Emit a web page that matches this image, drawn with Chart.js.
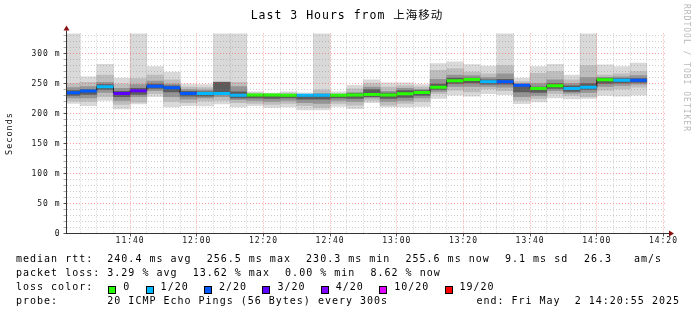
<!DOCTYPE html>
<html>
<head>
<meta charset="utf-8">
<script src="https://cdn.jsdelivr.net/npm/chart.js@4.4.1/dist/chart.umd.min.js"></script>
<style>
  body { margin: 0; background: #fff; }
  #wrap { position: relative; width: 697px; height: 315px; overflow: hidden; }
  #c { position: absolute; left: 0; top: 0; }
  .mono { position: absolute; font-family: "DejaVu Sans Mono", "Noto Sans CJK SC", monospace; white-space: pre; letter-spacing: 1px; color: #000; }
  #title { left: 0; width: 694px; top: 7px; text-align: center; font-size: 11.5px; line-height: 16px; }
  #rrd { left: 682px; top: 4px; font-size: 8px; line-height: 9px; color: #b8b8b8; writing-mode: vertical-rl; }
  .row { font-size: 10px; line-height: 14px; height: 14px; }
  .box { position: absolute; width: 6px; height: 6px; border: 1px solid #000; }
</style>
</head>
<body>
<div id="wrap">
  <canvas id="c" width="697" height="315"></canvas>
  <div id="title" class="mono">Last 3 Hours from 上海移动</div>
  <div id="rrd" class="mono">RRDTOOL / TOBI OETIKER</div>
</div>
<script>
// 5-minute slots (start time), last 3 hours ending 14:20:55
const slotStart = [
  "11:20","11:25","11:30","11:35","11:40","11:45","11:50","11:55",
  "12:00","12:05","12:10","12:15","12:20","12:25","12:30","12:35","12:40","12:45","12:50","12:55",
  "13:00","13:05","13:10","13:15","13:20","13:25","13:30","13:35","13:40","13:45","13:50","13:55",
  "14:00","14:05","14:10"
];
const windowEnd = "14:20:55";

// median rtt (ms) and loss class per slot
const median = [234.4, 237.5, 244.4, 233.5, 238, 245.5, 242.8, 233.5, 233.3, 233.3, 230.6, 230.8,
  230.8, 230.3, 230.3, 230.4, 230.5, 230.7, 231.6, 230.8, 232.8, 235, 243.9, 254.4, 256.5, 252.8,
  252.8, 247.2, 241.7, 246.1, 241.7, 243.9, 256.1, 255.5, 255.6];
const medianLoss = [2, 2, 1, 3, 3, 2, 2, 2, 1, 1, 1, 0, 0, 0, 1, 1, 0, 0, 0, 0, 0, 0, 0, 0, 0, 1,
  2, 2, 0, 0, 1, 1, 0, 1, 2];

// smoke: outer (min..max) and inner percentile bands, ms
const smokeMax = [345, 261, 282, 259, 345, 278, 269, 249, 248, 345, 345, 236, 234, 236, 234.5, 345,
  236, 247, 256, 251, 251, 248, 283, 286, 281.5, 279, 345, 259, 278, 282, 264, 345, 281, 278, 284];
const smokeMin = [217, 213, 222, 207.5, 216, 228, 211, 213, 212.7, 216, 211, 213, 210, 211, 206, 206,
  212, 208, 218, 211, 211, 212, 225, 230.5, 229, 233, 231.5, 216.5, 219.5, 226, 224.5, 225, 230, 229, 230.5];
const band2Hi = [250, 252, 264, 249, 258, 264, 256, 244, 243, 253, 252, 234, 233, 234, 232, 239, 233,
  241, 250, 244, 246, 244, 272, 275, 269, 266, 280, 253, 267, 270, 256, 280, 264, 266, 270];
const band2Lo = [221, 220, 228, 215, 219, 233, 220, 218, 221, 222, 218, 217, 215, 217, 213, 210, 217,
  214, 222, 214, 217, 220, 233, 239, 236, 241, 238, 222, 225, 233, 230, 228, 239, 241, 244];
const band3Hi = [243, 245, 252, 242, 248, 254, 249, 240, 239, 250, 245, 232, 232, 232, 231, 233, 232,
  235, 244, 237, 242, 240, 257, 264, 263, 260, 266, 250, 250, 256, 250, 260, 260, 261, 263];
const band3Lo = [226, 226, 235, 222, 228, 238, 228, 224, 226, 228, 223, 222, 220, 222, 218, 217, 222,
  220, 226, 220, 222, 226, 237, 245, 245, 245, 244, 228, 230, 238, 234, 235, 245, 247, 249];
const band4Hi = [238, 240, 248, 237, 242, 249, 246, 237, 236, 252, 236, 232, 232, 232, 231, 232, 232,
  233, 240, 234, 238, 238, 249, 259, 259, 256, 257, 246, 244, 250, 246, 250, 259, 258, 258];
const band4Lo = [230, 232, 240, 228, 232, 242, 236, 229, 229, 234, 226, 226, 225, 226, 224, 224, 226,
  225, 228, 225, 227, 230, 240, 250, 251, 249, 249, 236, 235, 242, 237, 240, 250, 251, 252];

// loss legend
const lossLabels = ["0", "1/20", "2/20", "3/20", "4/20", "10/20", "19/20"];
const lossColors = ["#26ff00", "#00b8ff", "#0059ff", "#5e00ff", "#7e00ff", "#dd00ff", "#ff0000"];

// axis ticks
const xMajor = ["11:40", "12:00", "12:20", "12:40", "13:00", "13:20", "13:40", "14:00", "14:20"];
const yMajor = [0, 50, 100, 150, 200, 250, 300];
const yMax = 1000 / 3;

function toMin(s) {
  const p = s.split(":").map(Number);
  return p[0] * 60 + p[1] + (p[2] || 0) / 60;
}

const xMax = toMin(windowEnd);
const xMin = xMax - 180;
const xs = slotStart.map(s => toMin(s) + 2.5);

const xMajorMin = xMajor.map(toMin);
const xTicks = [];
for (let m = Math.ceil(xMin / 5) * 5; m <= xMax; m += 5) xTicks.push(m);
const yTicks = [];
for (let v = 0; v <= 330; v += 10) yTicks.push(v);

function band(lo, hi, color, order) {
  return {
    type: "bar",
    data: xs.map((x, i) => ({ x, y: [lo[i], hi[i]] })),
    backgroundColor: color,
    borderWidth: 0,
    barPercentage: 1,
    categoryPercentage: 1,
    grouped: false,
    clip: 0,
    order
  };
}

const medPts = xs.map((x, i) => ({ x, y: median[i] }));

const axisDecor = {
  id: "axisDecor",
  beforeDraw(chart) {
    chart.ctx.letterSpacing = "1px";
  },
  afterDraw(chart) {
    const { ctx, chartArea: a } = chart;
    const ax = Math.floor(a.left) + 0.5;
    const ay = Math.floor(a.bottom) + 0.5;
    ctx.save();
    ctx.strokeStyle = "#333";
    ctx.lineWidth = 1;
    ctx.beginPath();
    ctx.moveTo(ax, a.top);
    ctx.lineTo(ax, a.top - 3);
    ctx.moveTo(a.right, ay);
    ctx.lineTo(a.right + 3, ay);
    ctx.stroke();
    ctx.fillStyle = "#8b1010";
    ctx.beginPath();
    ctx.moveTo(ax, a.top - 8);
    ctx.lineTo(ax - 3, a.top - 3);
    ctx.lineTo(ax + 3, a.top - 3);
    ctx.closePath();
    ctx.fill();
    ctx.beginPath();
    ctx.moveTo(a.right + 7.5, ay);
    ctx.lineTo(a.right + 2.5, ay - 3);
    ctx.lineTo(a.right + 2.5, ay + 3);
    ctx.closePath();
    ctx.fill();
    ctx.restore();
  }
};

const tickFont = { family: "DejaVu Sans Mono", size: 8 };

new Chart(document.getElementById("c"), {
  type: "bar",
  data: {
    datasets: [
      {
        type: "line",
        data: medPts,
        showLine: false,
        pointStyle: "line",
        pointRadius: 8.33,
        pointHoverRadius: 8.33,
        pointBorderWidth: 3,
        pointHoverBorderWidth: 3,
        pointBorderColor: medianLoss.map(k => lossColors[k]),
        pointBackgroundColor: medianLoss.map(k => lossColors[k]),
        clip: 0,
        order: 1
      },
      {
        type: "line",
        data: medPts,
        stepped: "middle",
        borderColor: "#111",
        borderWidth: 1,
        pointRadius: 0,
        fill: false,
        clip: 0,
        order: 2
      },
      band(band4Lo, band4Hi, "#5c5c5c", 3),
      band(band3Lo, band3Hi, "#959595", 4),
      band(band2Lo, band2Hi, "#bdbdbd", 5),
      band(smokeMin, smokeMax, "#d9d9d9", 6)
    ]
  },
  options: {
    responsive: false,
    animation: false,
    events: [],
    layout: { padding: { left: 0, right: 30.5, top: 33.5, bottom: 63.5 } },
    plugins: { legend: { display: false }, tooltip: { enabled: false } },
    scales: {
      x: {
        type: "linear",
        min: xMin,
        max: xMax,
        offset: false,
        afterBuildTicks: s => { s.ticks = xTicks.map(v => ({ value: v })); },
        afterFit: s => { s.height = 18; },
        ticks: {
          autoSkip: false,
          maxRotation: 0,
          padding: 0,
          font: tickFont,
          color: "#111",
          callback: v => {
            const k = xMajorMin.indexOf(v);
            return k >= 0 ? xMajor[k] : "";
          }
        },
        grid: {
          offset: false,
          z: 1,
          tickLength: 3,
          color: c => (xMajorMin.includes(c.tick.value) ? "rgba(255,40,40,0.45)" : "rgba(130,130,130,0.4)"),
          tickColor: c => (xMajorMin.includes(c.tick.value) ? "#555" : "rgba(0,0,0,0)")
        },
        border: { color: "#333", dash: [1, 2], z: 2 }
      },
      y: {
        min: 0,
        max: yMax,
        afterBuildTicks: s => { s.ticks = yTicks.map(v => ({ value: v })); },
        afterFit: s => { s.width = 66.5; },
        ticks: {
          autoSkip: false,
          padding: 3,
          font: tickFont,
          color: "#111",
          callback: v => (yMajor.includes(v) ? (v === 0 ? "0" : v + " m") : "")
        },
        grid: {
          z: 1,
          tickLength: 3,
          color: c => (c.tick.value === 0 ? "rgba(0,0,0,0)" : yMajor.includes(c.tick.value) ? "rgba(255,40,40,0.45)" : "rgba(130,130,130,0.4)"),
          tickColor: c => (yMajor.includes(c.tick.value) ? "#555" : "#aaa")
        },
        border: { color: "#333", dash: [1, 2], z: 2 },
        title: {
          display: true,
          text: "Seconds",
          font: { family: "DejaVu Sans Mono", size: 8.5 },
          color: "#111",
          padding: { top: 5, bottom: 0 }
        }
      }
    }
  },
  plugins: [axisDecor]
});

// text legend under the graph
const wrap = document.getElementById("wrap");
function addText(txt, x, yc) {
  const d = document.createElement("div");
  d.className = "mono row";
  d.textContent = txt;
  d.style.left = x + "px";
  d.style.top = (yc - 7) + "px";
  wrap.appendChild(d);
  return d;
}
const rows = [
  [259.3, [["median rtt:", 16], ["240.4 ms avg", 107.3], ["256.5 ms max", 206.7], ["230.3 ms min", 306.1],
    ["255.6 ms now", 405.5], ["9.1 ms sd", 505], ["26.3", 584], ["am/s", 634]]],
  [273.3, [["packet loss:", 16], ["3.29 % avg", 107.3], ["13.62 % max", 192.7], ["0.00 % min", 285.1],
    ["8.62 % now", 370.5]]],
  [287.3, [["loss color:", 16]]],
  [301.3, [["probe:", 16], ["20 ICMP Echo Pings (56 Bytes) every 300s", 107.3],
    ["end: Fri May  2 14:20:55 2025", 476.4]]]
];
rows.forEach(([yc, items]) => items.forEach(([t, x]) => addText(t, x, yc)));

let bx = 108.3;
lossLabels.forEach((lab, i) => {
  const b = document.createElement("div");
  b.className = "box";
  b.style.left = bx + "px";
  b.style.top = "285.5px";
  b.style.background = lossColors[i];
  wrap.appendChild(b);
  addText(lab, bx + 15, 287.3);
  bx += 15 + lab.length * 7.02 + 15.3;
});
</script>
</body>
</html>
